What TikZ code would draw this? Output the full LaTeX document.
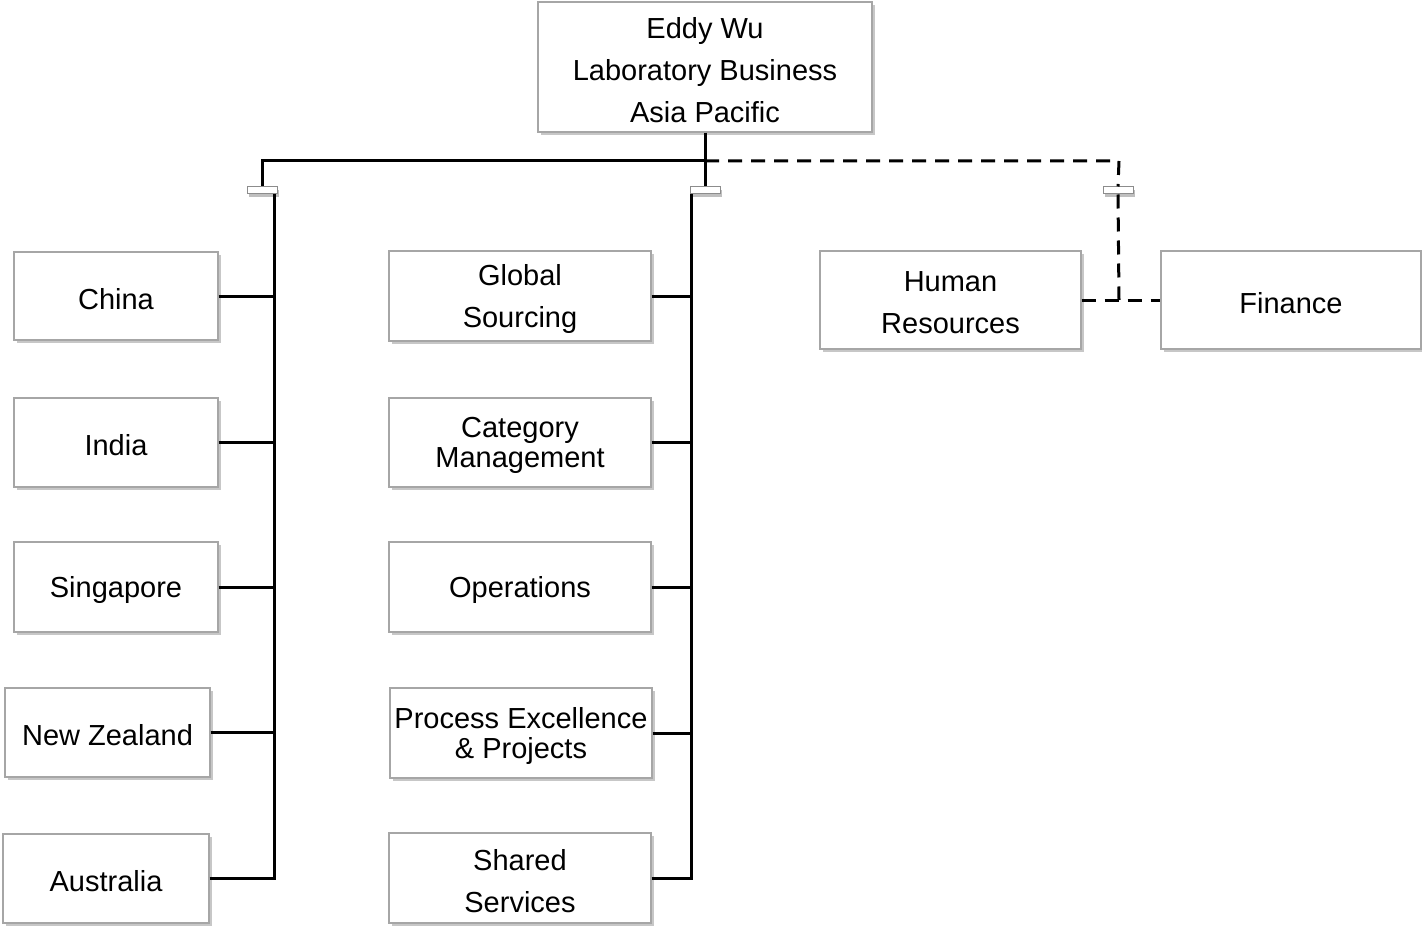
\documentclass[tikz,border=0pt]{standalone}
\usepackage{fontspec}
\setmainfont{Liberation Sans}
\usetikzlibrary{shadows}
\newcommand\bx[6][]{%
  \node[box, minimum width=#4, minimum height=#5] (#2) at (#3) {};
  \node[txt, #1] (#2-t) at ([yshift=-3pt]#2.center) {#6};}
\begin{document}
\begin{tikzpicture}[x=1pt,y=-1pt,
  box/.style={draw=black!35, line width=1.3pt, fill=white, inner sep=0pt,
    drop shadow={shadow xshift=2.5pt, shadow yshift=-3pt, fill=black, opacity=0.22}},
  txt/.style={align=center, inner sep=0pt, font=\fontsize{29}{42}\selectfont},
  tight/.style={font=\fontsize{29}{30}\selectfont},
  bar/.style={draw=black!45, line width=1pt, fill=white, minimum width=30pt, minimum height=7pt, inner sep=0pt,
    drop shadow={shadow xshift=2pt, shadow yshift=-3pt, fill=black, opacity=0.25}},
  conn/.style={line width=3pt, black},
  dconn/.style={line width=3pt, black, dash pattern=on 14pt off 9pt}]
\useasboundingbox (0,0) rectangle (1422,928);

\bx{top}{705,67}{334pt}{130pt}{Eddy Wu\\Laboratory Business\\Asia Pacific}

\bx{china}{116,296}{204pt}{88pt}{China}
\bx{india}{116,442.5}{204pt}{89pt}{India}
\bx{sing}{116,587}{204pt}{90pt}{Singapore}
\bx{nz}{107.5,732.5}{205pt}{89pt}{New Zealand}
\bx{aus}{106,878.5}{206pt}{89pt}{Australia}

\bx{gs}{520,296}{262pt}{90pt}{Global\\Sourcing}
\bx[tight]{cm}{520,442.5}{262pt}{89pt}{Category\\Management}
\bx{ops}{520,587}{262pt}{90pt}{Operations}
\bx[tight]{pe}{521,733}{262pt}{90pt}{Process Excellence\\\& Projects}
\bx{ss}{520,878}{262pt}{90pt}{Shared\\Services}

\bx{hr}{950.5,300}{261pt}{98pt}{Human\\Resources}
\bx{fin}{1291,300}{260pt}{98pt}{Finance}

\coordinate (j) at (705,161);
\coordinate (jl) at (262,161);
\coordinate (jr) at (1119,161);
\node[bar] (lbar) at (262,190.5) {};
\node[bar] (mbar) at (705,190.5) {};
\node[bar] (rbar) at (1118,190.5) {};
\coordinate (lb) at (274,194);
\coordinate (lbend) at (274,880);
\coordinate (mb) at (691,194);
\coordinate (mbend) at (691,880);
\coordinate (rbend) at (1119,300);

\draw[conn] (top.south) -- (j);
\draw[conn] (j) -- (jl) -- (lbar.north);
\draw[conn] (j) -- (mbar.north);
\draw[dconn] (j) -- (jr) -- (rbar.north);

\draw[conn] (lb) -- (lbend);
\draw[conn] (mb) -- (mbend);
\draw[dconn] (rbar.south) -- (rbend);

\foreach \n in {china,india,sing,nz}{\draw[conn] (\n.east) -- (\n.east -| lb);}
\draw[conn] (aus.east) -- (aus.east -| lb) -- (lb);
\foreach \n in {gs,cm,ops,pe}{\draw[conn] (\n.east) -- (\n.east -| mb);}
\draw[conn] (ss.east) -- (ss.east -| mb) -- (mb);
\draw[dconn] (hr.east) -- (fin.west);
\end{tikzpicture}
\end{document}
